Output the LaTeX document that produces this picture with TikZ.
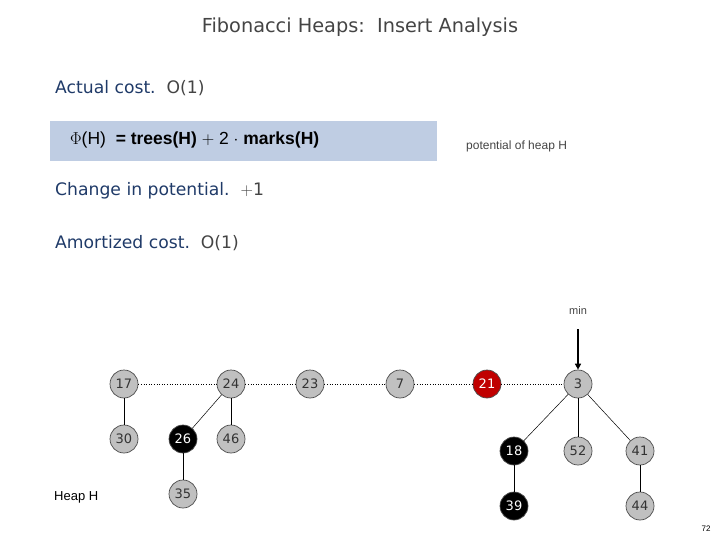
\documentclass[tikz,border=0pt]{standalone}
\usepackage{fontspec}
\setmainfont{DejaVu Sans}
\newfontfamily\arialf{Liberation Sans}
\usetikzlibrary{arrows.meta}
\definecolor{navy}{HTML}{1F3A68}
\definecolor{txtgray}{HTML}{444444}
\definecolor{boxblue}{HTML}{BFCDE3}
\definecolor{nodegray}{HTML}{C0C0C0}
\definecolor{redn}{HTML}{C00000}
\tikzset{
  hn/.style={circle, draw=black!70, line width=0.7pt, fill=nodegray, minimum size=28pt, inner sep=0pt, text=black!80, font=\fontsize{13}{13}\selectfont},
  bn/.style={hn, fill=black, text=white},
  rn/.style={hn, fill=redn, text=white},
  link/.style={line width=0.6pt, dotted, black},
  edge/.style={line width=0.9pt, black},
  tedge/.style={line width=0.5pt, black},
  bul/.style={anchor=west, inner sep=0pt, text=navy, font=\fontsize{17.2}{17.2}\selectfont}
}
\begin{document}
\begin{tikzpicture}[x=1pt,y=-1pt]
\useasboundingbox (0,0) rectangle (720,540);
\node[inner sep=0pt, text=txtgray, font=\fontsize{19.3}{19.3}\selectfont] (title) at (360,27) {Fibonacci Heaps:\ \ Insert Analysis};
\node[bul] (ac) at (55,88) {Actual cost.\ \ \textcolor{txtgray}{O(1)}};
\fill[boxblue] (50,121) rectangle (437,161);
\node[anchor=west, inner sep=0pt, font=\arialf\fontsize{17.5}{17.5}\selectfont] (phi) at (70,140) {$\Phi$(H)\ \ \textbf{= trees(H)} $+$ 2 $\cdot$ \textbf{marks(H)}};
\node[anchor=west, inner sep=0pt, text=txtgray, font=\arialf\fontsize{12}{12}\selectfont] (pot) at (466,146) {potential of heap H};
\node[bul] (cp) at (55,191) {Change in potential.\ \ \textcolor{txtgray}{$+$1}};
\node[bul] (am) at (55,243) {Amortized cost.\ \ \textcolor{txtgray}{O(1)}};

\node[hn] (n17) at (124,384) {17};
\node[hn] (n24) at (231,384) {24};
\node[hn] (n23) at (310,384) {23};
\node[hn] (n7) at (400,384) {7};
\node[rn] (n21) at (487,384) {21};
\node[hn] (n3) at (578,384) {3};
\node[hn] (n30) at (124,439) {30};
\node[bn] (n26) at (183,439) {26};
\node[hn] (n46) at (231,439) {46};
\node[hn] (n35) at (183,494) {35};
\node[bn] (n18) at (514,451) {18};
\node[hn] (n52) at (578,451) {52};
\node[hn] (n41) at (640,451) {41};
\node[bn] (n39) at (514,506) {39};
\node[hn] (n44) at (640,506) {44};

\draw[link] (n17) -- (n24);
\draw[link] (n24) -- (n23);
\draw[link] (n23) -- (n7);
\draw[link] (n7) -- (n21);
\draw[link] (n21) -- (n3);
\draw[edge] (n17) -- (n30);
\draw[tedge] (n24) -- (n26);
\draw[edge] (n24) -- (n46);
\draw[edge] (n26) -- (n35);
\draw[tedge] (n3) -- (n18);
\draw[edge] (n3) -- (n52);
\draw[tedge] (n3) -- (n41);
\draw[edge] (n18) -- (n39);
\draw[edge] (n41) -- (n44);

\node[inner sep=0pt, text=txtgray, font=\arialf\fontsize{11}{11}\selectfont] (min) at (578,311) {min};
\coordinate (arrtop) at (578,329);
\draw[line width=1.5pt, -{Triangle[length=6pt,width=6pt]}] (arrtop) -- (n3.north);
\node[anchor=west, inner sep=0pt, font=\arialf\fontsize{13}{13}\selectfont] (hh) at (54,497) {Heap H};
\node[inner sep=0pt, font=\arialf\fontsize{8}{8}\selectfont] (pg) at (706,529) {72};
\end{tikzpicture}
\end{document}
